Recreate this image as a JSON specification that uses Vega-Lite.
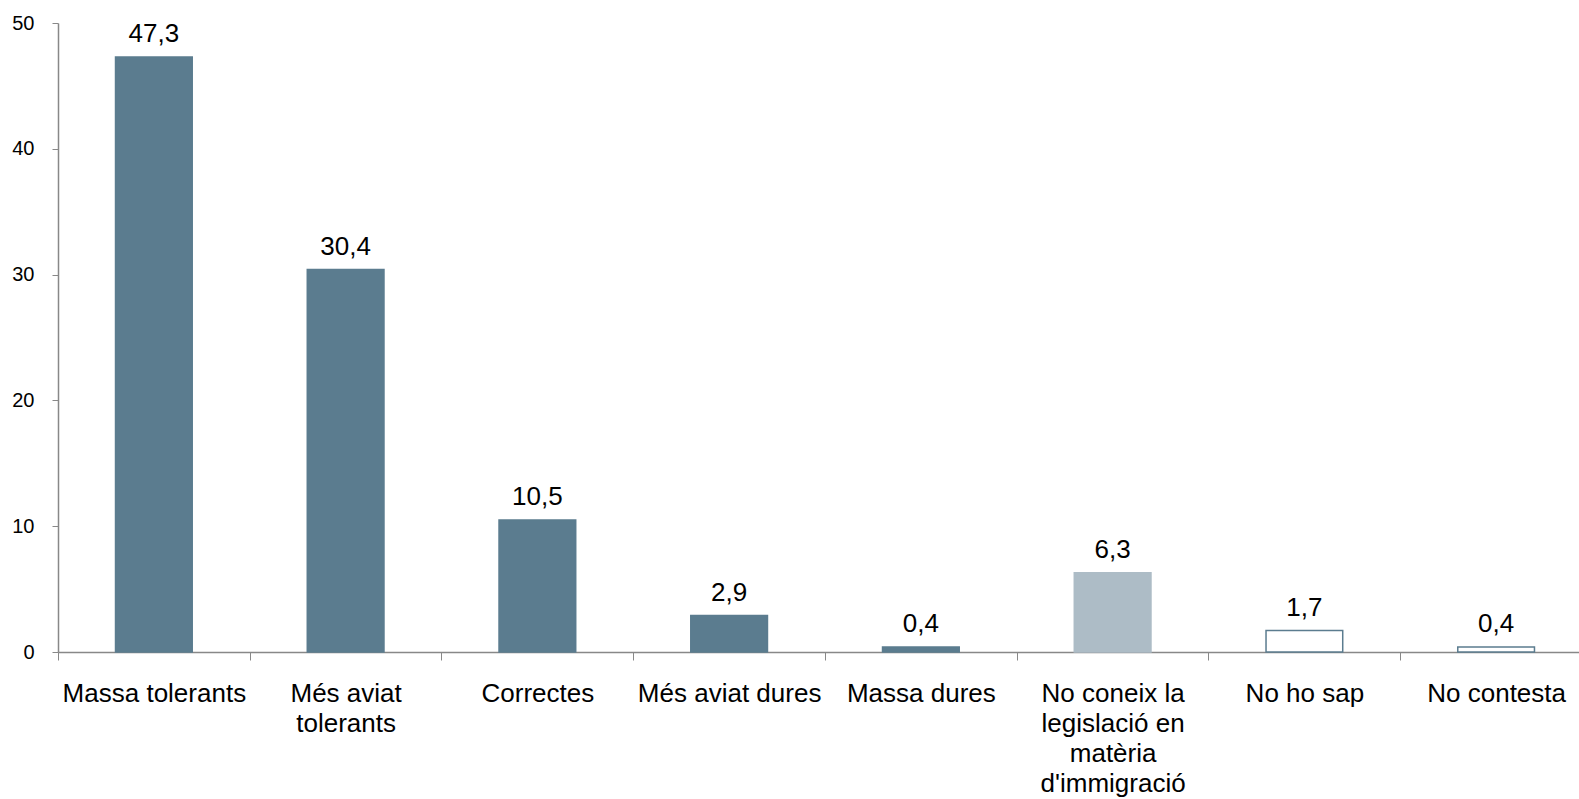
{
  "$schema": "https://vega.github.io/schema/vega-lite/v6.json",
  "width": 1534,
  "height": 629,
  "autosize": {"type": "none"},
  "padding": {"left": 58, "top": 23, "right": 0, "bottom": 147},
  "background": "white",
  "config": {
    "view": {"stroke": null},
    "font": "Liberation Sans",
    "locale": {"number": {"decimal": ",", "thousands": ".", "grouping": [3], "currency": ["", " €"]}}
  },
  "data": {
    "values": [
      {"category": "Massa tolerants", "value": 47.3, "kind": "main"},
      {"category": "Més aviat tolerants", "value": 30.4, "kind": "main"},
      {"category": "Correctes", "value": 10.5, "kind": "main"},
      {"category": "Més aviat dures", "value": 2.9, "kind": "main"},
      {"category": "Massa dures", "value": 0.4, "kind": "main"},
      {"category": "No coneix la legislació en matèria d'immigració", "value": 6.3, "kind": "light"},
      {"category": "No ho sap", "value": 1.7, "kind": "outline"},
      {"category": "No contesta", "value": 0.4, "kind": "outline"}
    ]
  },
  "encoding": {
    "x": {
      "field": "category",
      "type": "nominal",
      "sort": null,
      "scale": {"paddingInner": 0, "paddingOuter": 0},
      "axis": {
        "title": null,
        "labelAngle": 0,
        "labelFontSize": 26,
        "labelColor": "#000000",
        "labelPadding": 20,
        "labelLineHeight": 30,
        "labelBaseline": "top",
        "labelLimit": 400,
        "labelOverlap": false,
        "tickOffset": -95.9,
        "labelOffset": 95.9,
        "tickSize": 8,
        "tickColor": "#888888",
        "domainColor": "#888888",
        "domainWidth": 1.5,
        "labelExpr": "datum.value == 'Més aviat tolerants' ? ['Més aviat', 'tolerants'] : (indexof(datum.value, 'No coneix') == 0 ? ['No coneix la', 'legislació en', 'matèria', \"d'immigració\"] : datum.value)"
      }
    },
    "y": {
      "field": "value",
      "type": "quantitative",
      "scale": {"domain": [0, 50]},
      "axis": {
        "title": null,
        "values": [0, 10, 20, 30, 40, 50],
        "grid": false,
        "labelFontSize": 20,
        "labelColor": "#000000",
        "labelPadding": 18,
        "tickSize": 6,
        "tickColor": "#888888",
        "domainColor": "#888888",
        "domainWidth": 1.5
      }
    }
  },
  "layer": [
    {
      "mark": {"type": "bar", "strokeWidth": 1.5, "width": {"band": 0.4}},
      "encoding": {
        "fill": {
          "field": "kind",
          "type": "nominal",
          "scale": {"domain": ["main", "light", "outline"], "range": ["#5B7C8F", "#ADBCC6", "#FFFFFF"]},
          "legend": null
        },
        "stroke": {
          "field": "kind",
          "type": "nominal",
          "scale": {"domain": ["main", "light", "outline"], "range": ["#5B7C8F", "#ADBCC6", "#5B7C8F"]},
          "legend": null
        }
      }
    },
    {
      "mark": {"type": "text", "fontSize": 26, "dy": -10, "baseline": "bottom", "color": "#000000"},
      "encoding": {
        "text": {"field": "value", "type": "quantitative", "format": ".1f"}
      }
    }
  ]
}
